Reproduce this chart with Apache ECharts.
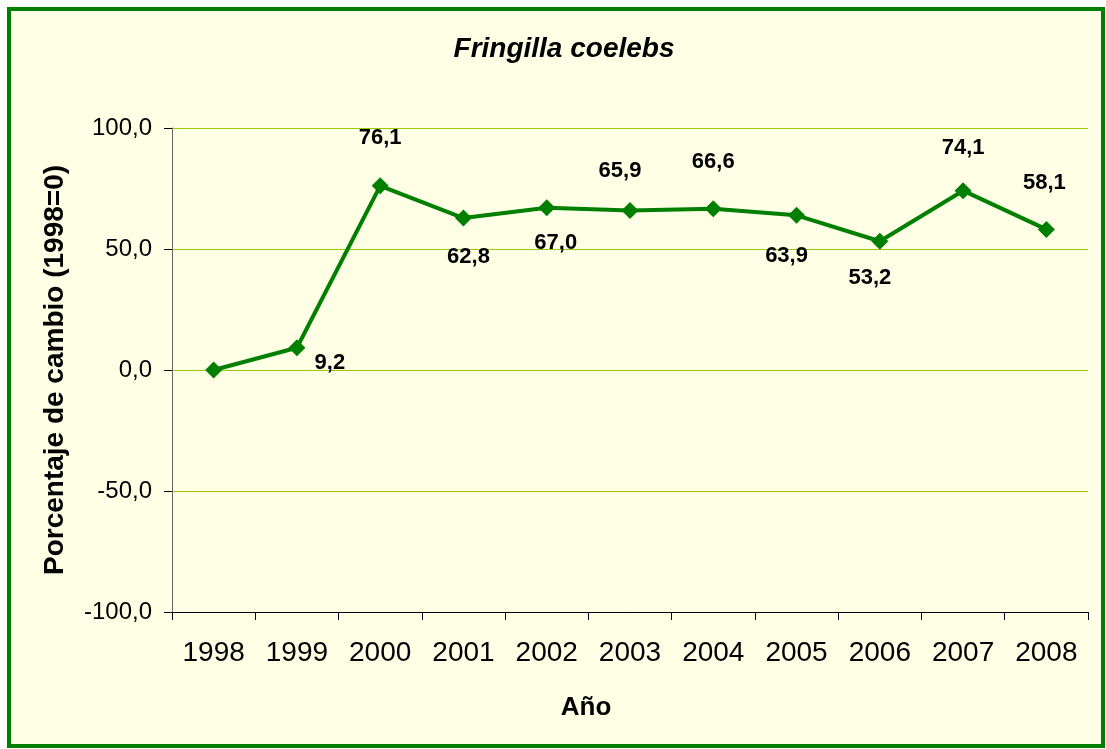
<!DOCTYPE html>
<html>
<head>
<meta charset="utf-8">
<script src="https://cdn.jsdelivr.net/npm/echarts@6/dist/echarts.min.js"></script>
<style>
  html, body { margin: 0; padding: 0; background: #ffffff; }
  #chart { width: 1106px; height: 749px; }
</style>
</head>
<body>
<div id="chart"></div>
<script>
// Fringilla coelebs — % change vs 1998
const years = ["1998", "1999", "2000", "2001", "2002", "2003", "2004", "2005", "2006", "2007", "2008"];
const changePct = [0, 9.2, 76.1, 62.8, 67.0, 65.9, 66.6, 63.9, 53.2, 74.1, 58.1];
const yTicks = [-100, -50, 0, 50, 100];

// label placement (offset from marker centre), null = no label
const labelOffsets = [null, [33, 15], [0, -48], [5, 39], [9, 35], [-10, -40], [0, -47], [-10, 41], [-10, 37], [0, -43], [-2, -46]];

const GREEN = "#007f00";
const GRID = "#99cc00";
const FONT = "Liberation Sans, Arial, sans-serif";
const fmt = (v) => v.toFixed(1).replace(".", ",");

const chart = echarts.init(document.getElementById("chart"));
chart.setOption({
  animation: false,
  backgroundColor: "#ffffff",
  graphic: [{
    type: "rect", z: -10, silent: true,
    shape: { x: 9, y: 9, width: 1094, height: 737 },
    style: { fill: "#ffffe6", stroke: "#008000", lineWidth: 4 }
  }],
  title: [
    { text: "Fringilla coelebs", left: 559, top: 30, textAlign: "center",
      textStyle: { fontFamily: FONT, fontSize: 28, fontStyle: "italic", fontWeight: "bold", color: "#000" } },
    { text: "Año", left: 581, top: 690, textAlign: "center",
      textStyle: { fontFamily: FONT, fontSize: 26, fontWeight: "bold", color: "#000" } }
  ],
  grid: { left: 172, right: 18, top: 128, bottom: 137 },
  xAxis: {
    type: "category", data: years, boundaryGap: true,
    axisLine: { onZero: false, lineStyle: { color: "#000", width: 1 } },
    axisTick: { show: true, length: 8, alignWithLabel: false, lineStyle: { color: "#000" } },
    axisLabel: { color: "#000", fontFamily: FONT, fontSize: 28, margin: 27 },
    splitLine: { show: false }
  },
  yAxis: {
    type: "value", min: yTicks[0], max: yTicks[yTicks.length - 1], interval: 50,
    name: "Porcentaje de cambio (1998=0)", nameLocation: "middle", nameGap: 103, nameRotate: 90,
    nameTextStyle: { fontFamily: FONT, fontSize: 28, fontWeight: "bold", color: "#000" },
    axisLine: { show: true, lineStyle: { color: "#666", width: 1 } },
    axisTick: { show: true, inside: false, length: 8, lineStyle: { color: "#000" } },
    axisLabel: { color: "#000", fontFamily: FONT, fontSize: 24, margin: 20, formatter: fmt },
    splitLine: { lineStyle: { color: GRID, width: 1 } }
  },
  series: [{
    type: "line",
    data: changePct.map((v, i) => ({
      value: v,
      label: labelOffsets[i]
        ? { show: true, position: "inside", offset: labelOffsets[i] }
        : { show: false }
    })),
    symbol: "diamond", symbolSize: 17,
    lineStyle: { color: GREEN, width: 4 },
    itemStyle: { color: GREEN },
    label: {
      fontFamily: FONT, fontSize: 22, fontWeight: "bold", color: "#000",
      formatter: (p) => fmt(p.value)
    }
  }]
});
</script>
</body>
</html>
